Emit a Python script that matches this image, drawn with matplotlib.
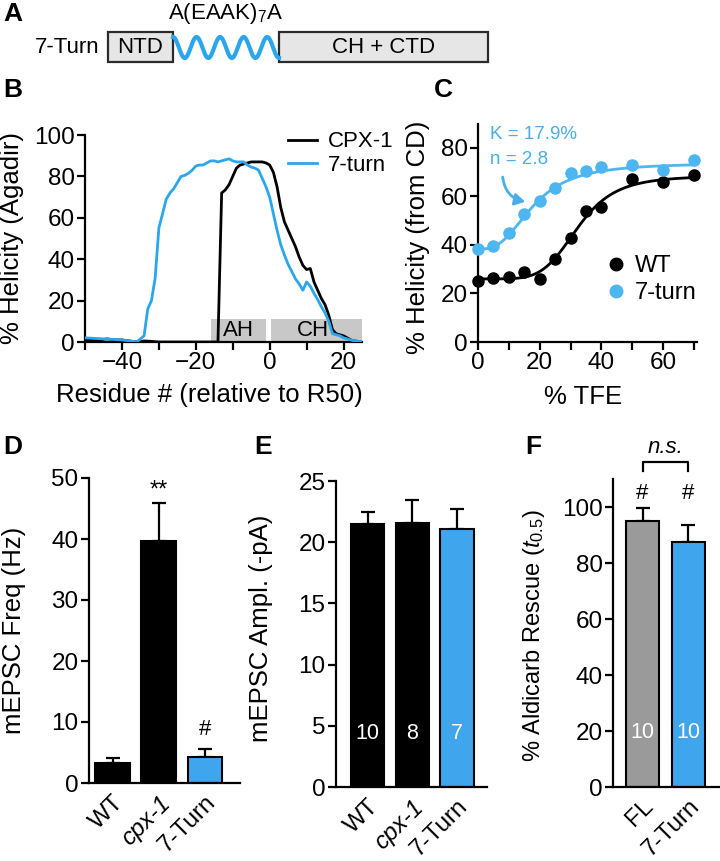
import numpy as np
import matplotlib
matplotlib.use("Agg")
import matplotlib.pyplot as plt
from matplotlib.patches import Rectangle
from matplotlib.lines import Line2D

plt.rcParams['font.family'] = ['Liberation Sans', 'DejaVu Sans']
plt.rcParams['mathtext.fontset'] = 'custom'
plt.rcParams['mathtext.rm'] = 'Liberation Sans'
plt.rcParams['mathtext.it'] = 'Liberation Sans:italic'
plt.rcParams['axes.linewidth'] = 1.6
plt.rcParams['xtick.major.width'] = 1.6
plt.rcParams['ytick.major.width'] = 1.6
plt.rcParams['xtick.minor.width'] = 1.6
plt.rcParams['xtick.major.size'] = 5.5
plt.rcParams['ytick.major.size'] = 5.5
plt.rcParams['xtick.minor.size'] = 5.5
plt.rcParams['xtick.labelsize'] = 17.5
plt.rcParams['ytick.labelsize'] = 17.5

BLUE = '#3FA6EE'
LINE_BLUE = '#2AA6EC'
DOT_BLUE = '#4DB6F0'
TXT_BLUE = '#4AAEE8'
GRAY = '#9A9A9A'
LAB_FS = 18.5

# ---- panel B: Agadir helicity per residue ----
res_7turn = [-50, -45, -40, -37, -36, -35, -34, -33, -32, -31, -30, -29, -28, -27, -26, -25,
             -24, -23, -22, -21, -20, -19, -18, -17, -16, -15, -14, -13, -12, -11, -10, -9,
             -8, -7, -6, -5, -4, -3, -2, -1, 0, 1, 2, 3, 4, 5, 6, 7, 8, 9, 10, 11, 12, 13,
             14, 15, 16, 17, 18, 19, 20, 21, 22, 23, 24, 25]
hel_7turn = [2, 1.5, 1, 0.3, 0, 1.5, 3, 16, 20, 31, 55, 62, 69, 72, 74, 77,
             80, 80.5, 81.5, 83, 85, 85.5, 85.5, 86.5, 87.5, 87.5, 87, 87.5, 88, 88.5, 87.5, 87,
             87, 87, 85.5, 84.5, 84, 83, 79, 75, 70, 62, 54, 47, 42, 37.5, 34, 30.5, 28, 25,
             29, 27, 23.5, 20.5, 17, 14, 10, 4, 3.5, 3, 2, 1.5, 1, 0.5, 0.3, 0.3]
res_cpx = [-50, -48, -46, -44, -42, -40, -38, -36, -34, -32, -30, -20, -14, -13, -12, -11,
           -10, -9, -8, -7, -6, -5, -4, -3, -2, -1, 0, 1, 2, 3, 4, 5, 6, 7, 8, 9, 10, 11,
           12, 13, 14, 15, 16, 17, 18, 19, 20, 21, 22, 23, 24, 25]
hel_cpx = [1, 1, 1, 1.5, 1, 1, 0.5, 0, 0.5, 0.3, 0, 0, 0, 72, 73.5, 76,
           80, 84, 85.5, 86, 86.5, 87, 87, 87, 87, 86.5, 85.5, 82, 75, 65, 58, 54, 50, 46, 41, 37, 35, 35.5,
           29, 25, 21, 18, 13, 6, 4, 3.5, 3, 2, 1, 0.5, 0.3, 0.2]
domains_b = ['AH', 'CH']
domain_start = [-15.8, 0.4]
domain_end = [-1.0, 25.6]
domain_label_x = [-8.4, 11.6]
domain_height = 11.3

# ---- panel C: CD helicity vs TFE ----
tfe = [0, 5, 10, 15, 20, 25, 30, 35, 40, 50, 60, 70]
cd_wt = [25.3, 26.3, 26.8, 28.9, 26.1, 34.2, 42.9, 54.2, 55.5, 67.4, 66.1, 68.7]
cd_7turn = [38.4, 39.4, 44.9, 52.9, 58.3, 63.5, 69.7, 70.4, 72.0, 73.1, 71.1, 75.2]
# Hill fits: bottom, top, K, n
fit_wt = (26.0, 68.5, 32.4, 5.3)
fit_7turn = (38.3, 73.8, 17.9, 2.8)

# ---- panels D-F: bars ----
d_groups = ['WT', 'cpx-1', '7-Turn']
d_freq = [3.3, 39.7, 4.2]
d_err = [0.8, 6.2, 1.4]
e_amp = [21.45, 21.6, 21.1]
e_err = [1.05, 1.85, 1.6]
e_n = ['10', '8', '7']
f_groups = ['FL', '7-Turn']
f_rescue = [94.9, 87.5]
f_err = [4.7, 6.1]
f_n = ['10', '10']

fig = plt.figure(figsize=(7.2, 8.61), dpi=100)
W, H = 720.0, 861.0


def rect(l, t, r, b):
    return [l / W, 1 - b / H, (r - l) / W, (b - t) / H]


def style(ax):
    for s in ['top', 'right']:
        ax.spines[s].set_visible(False)
    ax.tick_params(direction='out', which='both', pad=2)


def hill(x, p):
    bottom, top, k, n = p
    return bottom + (top - bottom) * x ** n / (k ** n + x ** n)


# ---------------- A: schematic ----------------
axa = fig.add_axes([0, 0, 1, 1], zorder=-1)
axa.set_xlim(0, W)
axa.set_ylim(H, 0)
axa.axis('off')
axa.add_patch(Rectangle((108, 32), 65, 30, facecolor='#E6E6E6', edgecolor='#2B2B2B', lw=1.6))
axa.add_patch(Rectangle((279, 32), 209, 30, facecolor='#E6E6E6', edgecolor='#2B2B2B', lw=1.6))
t = np.linspace(0, 1, 300)
axa.plot(173 + t * 106, 47.5 - 10.5 * np.cos(2 * np.pi * 4.5 * t), color=LINE_BLUE, lw=3)
axa.text(140.5, 47.5, 'NTD', ha='center', va='center', fontsize=16)
axa.text(383.5, 47.5, 'CH + CTD', ha='center', va='center', fontsize=16)
axa.text(100, 47.5, '7-Turn', ha='right', va='center', fontsize=16)
axa.text(226, 14, r'A(EAAK)$_7$A', ha='center', va='center', fontsize=16)
for lab, x, y in [('A', 3, 14), ('B', 3, 90), ('C', 434, 90), ('D', 3, 447), ('E', 254, 447), ('F', 525, 447)]:
    axa.text(x, y, lab, ha='left', va='center', fontsize=19, fontweight='bold')

# ---------------- B ----------------
axb = fig.add_axes(rect(85, 135, 362, 342))
style(axb)
for name, x0, x1, xl in zip(domains_b, domain_start, domain_end, domain_label_x):
    axb.add_patch(Rectangle((x0, 0), x1 - x0, domain_height, facecolor='#C8C8C8', edgecolor='none', zorder=1))
    axb.text(xl, domain_height / 2 - 0.3, name, ha='center', va='center', fontsize=16, zorder=2)
axb.plot(res_cpx, hel_cpx, color='black', lw=2, zorder=3, label='CPX-1')
axb.plot(res_7turn, hel_7turn, color=LINE_BLUE, lw=2, zorder=4, label='7-turn')
axb.set_xlim(-50, 25)
axb.set_ylim(0, 100)
axb.set_xticks([-40, -20, 0, 20])
axb.set_xticks([-50, -30, -10, 10], minor=True)
axb.set_yticks([0, 20, 40, 60, 80, 100])
axb.set_xlabel('Residue # (relative to R50)', fontsize=LAB_FS)
axb.set_ylabel('% Helicity (Agadir)', fontsize=LAB_FS)
axb.yaxis.set_label_coords(-0.22, 0.5)
axb.xaxis.set_label_coords(0.45, -0.2)
axb.legend(loc='upper left', bbox_to_anchor=(0.70, 1.06), frameon=False, fontsize=16,
           handlelength=1.3, handletextpad=0.5, labelspacing=0.1, borderaxespad=0)

# ---------------- C ----------------
axc = fig.add_axes(rect(478, 123.7, 697, 342))
style(axc)
xs = np.linspace(0, 70, 300)
axc.plot(xs, hill(xs, fit_wt), color='black', lw=2)
axc.plot(xs, hill(xs, fit_7turn), color=DOT_BLUE, lw=2)
axc.plot(tfe, cd_wt, 'o', color='black', ms=8, clip_on=False, zorder=5)
axc.plot(tfe, cd_7turn, 'o', color=DOT_BLUE, ms=8, clip_on=False, zorder=5)
axc.set_xlim(0, 71)
axc.set_ylim(0, 90)
axc.set_xticks([0, 20, 40, 60])
axc.set_xticks([10, 30, 50, 70], minor=True)
axc.set_yticks([0, 20, 40, 60, 80])
axc.set_xlabel('% TFE', fontsize=LAB_FS)
axc.set_ylabel('% Helicity (from CD)', fontsize=LAB_FS)
axc.yaxis.set_label_coords(-0.22, 0.48)
axc.xaxis.set_label_coords(0.48, -0.195)
axc.text(3.8, 85.5, 'K = 17.9%', color=TXT_BLUE, fontsize=13.5, ha='left', va='center')
axc.text(3.8, 75.2, 'n = 2.8', color=TXT_BLUE, fontsize=13.5, ha='left', va='center')
axc.annotate('', xy=(15.3, 57.8), xytext=(8.0, 68),
             arrowprops=dict(arrowstyle='-|>,head_length=0.6,head_width=0.35', color=TXT_BLUE, lw=2,
                             connectionstyle='arc3,rad=0.35', shrinkA=0, shrinkB=0))
handles = [Line2D([], [], marker='o', ls='none', color='black', ms=9),
           Line2D([], [], marker='o', ls='none', color=DOT_BLUE, ms=9)]
axc.legend(handles, ['WT', '7-turn'], loc='upper left', bbox_to_anchor=(0.545, 0.44), frameon=False,
           fontsize=17, handlelength=0.8, handletextpad=0.4, labelspacing=0.2, borderaxespad=0)


def bars(ax, vals, errs, colors, width):
    x = np.arange(len(vals))
    ax.bar(x, vals, width=width, color=colors, edgecolor='black', lw=1.5, zorder=2)
    ax.errorbar(x, vals, yerr=[np.zeros(len(vals)), errs], fmt='none', ecolor='black',
                elinewidth=1.6, capsize=5, capthick=1.6, zorder=1)
    return x


# ---------------- D ----------------
axd = fig.add_axes(rect(89, 478, 240, 783))
style(axd)
xd = bars(axd, d_freq, d_err, ['black', 'black', BLUE], 0.75)
axd.set_xlim(-0.508, 2.756)
axd.set_ylim(0, 50)
axd.set_yticks([0, 10, 20, 30, 40, 50])
axd.set_xticks(xd)
axd.set_xticklabels(d_groups, rotation=45, ha='right', rotation_mode='anchor')
axd.get_xticklabels()[1].set_fontstyle('italic')
axd.tick_params(axis='x', length=0, pad=6)
axd.set_ylabel('mEPSC Freq (Hz)', fontsize=LAB_FS)
axd.yaxis.set_label_coords(-0.42, 0.5)
axd.text(1, d_freq[1] + d_err[1] + 0.3, '**', ha='center', va='bottom', fontsize=17)
axd.text(2, d_freq[2] + d_err[2] + 1.5, '#', ha='center', va='bottom', fontsize=16)

# ---------------- E ----------------
axe = fig.add_axes(rect(336, 481, 487, 787))
style(axe)
xe = bars(axe, e_amp, e_err, ['black', 'black', BLUE], 0.74)
axe.set_xlim(-0.704, 2.67)
axe.set_ylim(0, 25)
axe.set_yticks([0, 5, 10, 15, 20, 25])
axe.set_xticks(xe)
axe.set_xticklabels(d_groups, rotation=45, ha='right', rotation_mode='anchor')
axe.get_xticklabels()[1].set_fontstyle('italic')
axe.tick_params(axis='x', length=0, pad=6)
axe.set_ylabel('mEPSC Ampl. (-pA)', fontsize=LAB_FS)
axe.yaxis.set_label_coords(-0.42, 0.52)
for xi, n in zip(xe, e_n):
    axe.text(xi, 4.4, n, color='white', ha='center', va='center', fontsize=15.5)

# ---------------- F ----------------
axf = fig.add_axes(rect(613, 479, 720, 787))
style(axf)
xf = bars(axf, f_rescue, f_err, [GRAY, BLUE], 0.725)
axf.set_xlim(-0.648, 1.70)
axf.set_ylim(0, 110)
axf.set_yticks([0, 20, 40, 60, 80, 100])
axf.set_xticks(xf)
axf.set_xticklabels(f_groups, rotation=45, ha='right', rotation_mode='anchor')
axf.tick_params(axis='x', length=0, pad=6)
axf.set_ylabel(r'% Aldicarb Rescue ($t_{\mathit{0.5}}$)', fontsize=17)
axf.yaxis.set_label_coords(-0.62, 0.49)
for xi, n in zip(xf, f_n):
    axf.text(xi, 19.5, n, color='white', ha='center', va='center', fontsize=15.5)
for xi in xf:
    axf.text(xi, 101, '#', ha='center', va='bottom', fontsize=16)
axf.plot([0, 0, 1, 1], [112.8, 116, 116, 112.8], color='black', lw=1.6, clip_on=False)
axf.text(0.5, 117.5, 'n.s.', ha='center', va='bottom', fontsize=16, style='italic')

fig.savefig('out.png', dpi=100)
